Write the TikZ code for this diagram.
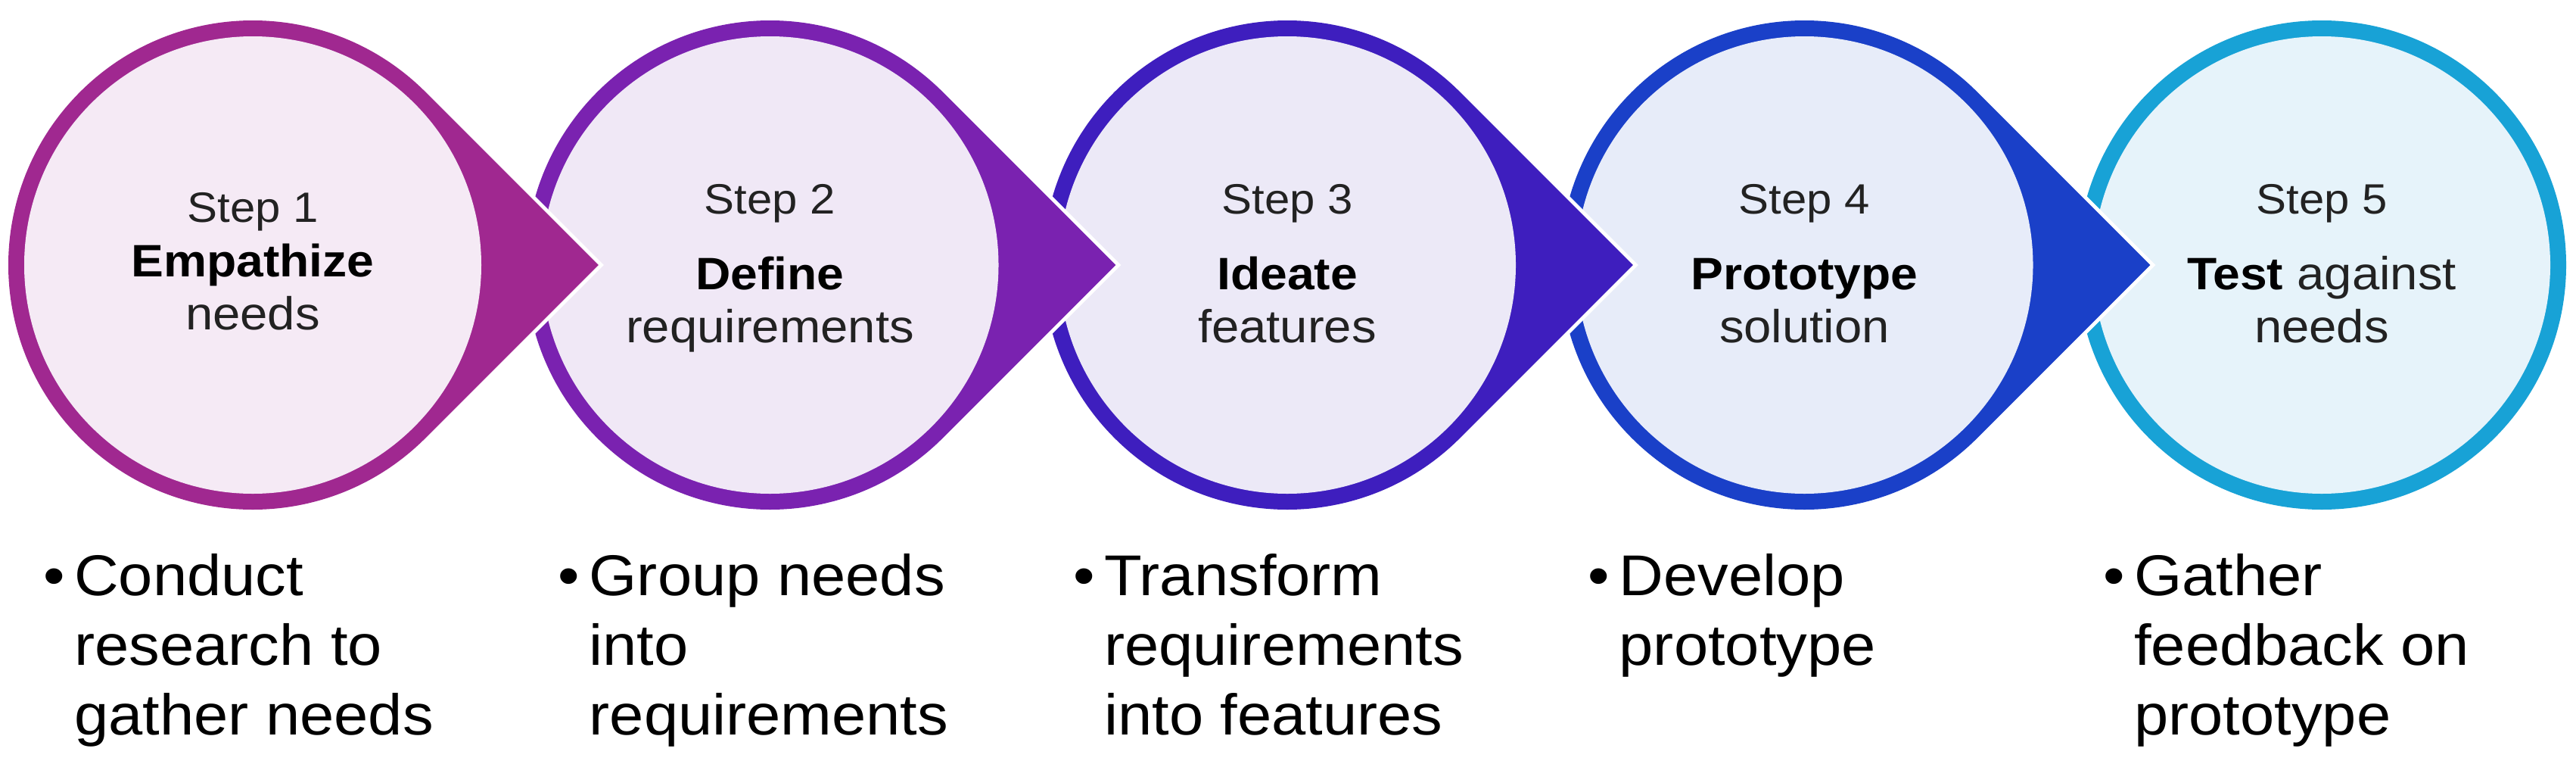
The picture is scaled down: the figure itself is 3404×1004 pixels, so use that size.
\documentclass[tikz,border=0pt]{standalone}
\usepackage{fontspec}
\setmainfont{Liberation Sans}[FakeStretch=1.07]
\usetikzlibrary{calc}
\definecolor{ringA}{HTML}{A02890}
\definecolor{ringB}{HTML}{7A22B0}
\definecolor{ringC}{HTML}{3E1EBE}
\definecolor{ringD}{HTML}{1A40C8}
\definecolor{ringE}{HTML}{18A2D6}
\definecolor{fillA}{HTML}{F5EAF5}
\definecolor{fillB}{HTML}{F0E8F6}
\definecolor{fillC}{HTML}{ECE9F7}
\definecolor{fillD}{HTML}{E7ECF9}
\definecolor{fillE}{HTML}{E6F3FA}
\definecolor{txtgray}{HTML}{222222}
\begin{document}
\begin{tikzpicture}[x=1pt,y=-1pt,
  stepl/.style={anchor=base, inner sep=0pt, text=txtgray, font=\fontsize{56}{60}\selectfont},
  boldl/.style={anchor=base, inner sep=0pt, text=black, font=\fontsize{60}{64}\selectfont\bfseries},
  thirdl/.style={anchor=base, inner sep=0pt, text=txtgray, font=\fontsize{61}{64}\selectfont},
  bline/.style={anchor=base west, inner sep=0pt, text=black, font=\fontsize{76}{80}\selectfont},
]
\useasboundingbox (0,0) rectangle (3404,1004);
\fill[white] (0,0) rectangle (3404,1004);
% last circle (no arrow)
\fill[ringE] (3068,350) circle[radius=323];
\fill[fillE] (3068,350) circle[radius=302];
% teardrops, drawn from right to left so each arrow lies over the next circle
\foreach \cx/\ring/\inner in {2384.5/ringD/fillD, 1701/ringC/fillC, 1017.5/ringB/fillB, 334/ringA/fillA}{
  \draw[white, line width=10pt, line join=miter]
    (\cx+456.8,350) -- ($(\cx,350)+(45:323)$) arc[start angle=45,end angle=315,radius=323] -- cycle;
  \fill[\ring]
    (\cx+456.8,350) -- ($(\cx,350)+(45:323)$) arc[start angle=45,end angle=315,radius=323] -- cycle;
  \fill[\inner] (\cx,350) circle[radius=302];
}
% circle texts
\node[stepl] (s1) at (334,293) {Step 1};
\node[boldl] (b1) at (334,365) {Empathize};
\node[thirdl] (t1) at (334,435) {needs};

\node[stepl] (s2) at (1017.5,282) {Step 2};
\node[boldl] (b2) at (1017.5,382) {Define};
\node[thirdl] (t2) at (1017.5,452) {requirements};

\node[stepl] (s3) at (1701,282) {Step 3};
\node[boldl] (b3) at (1701,382) {Ideate};
\node[thirdl] (t3) at (1701,452) {features};

\node[stepl] (s4) at (2384.5,282) {Step 4};
\node[boldl] (b4) at (2384.5,382) {Prototype};
\node[thirdl] (t4) at (2384.5,452) {solution};

\node[stepl] (s5) at (3068,282) {Step 5};
\node[boldl] (b5) at (3068,382) {Test{\mdseries\color{txtgray}\fontsize{61}{64}\selectfont{} against}};
\node[thirdl] (t5) at (3068,452) {needs};

% bullet texts
\node[bline] (d1) at (57,786) {•};
\node[bline] (e1a) at (98,786) {Conduct};
\node[bline] (e1b) at (98,878) {research to};
\node[bline] (e1c) at (98,970) {gather needs};

\node[bline] (d2) at (737.5,786) {•};
\node[bline] (e2a) at (778.5,786) {Group needs};
\node[bline] (e2b) at (778.5,878) {into};
\node[bline] (e2c) at (778.5,970) {requirements};

\node[bline] (d3) at (1418,786) {•};
\node[bline] (e3a) at (1459,786) {Transform};
\node[bline] (e3b) at (1459,878) {requirements};
\node[bline] (e3c) at (1459,970) {into features};

\node[bline] (d4) at (2098.5,786) {•};
\node[bline] (e4a) at (2139.5,786) {Develop};
\node[bline] (e4b) at (2139.5,878) {prototype};

\node[bline] (d5) at (2779,786) {•};
\node[bline] (e5a) at (2820,786) {Gather};
\node[bline] (e5b) at (2820,878) {feedback on};
\node[bline] (e5c) at (2820,970) {prototype};
\end{tikzpicture}
\end{document}
